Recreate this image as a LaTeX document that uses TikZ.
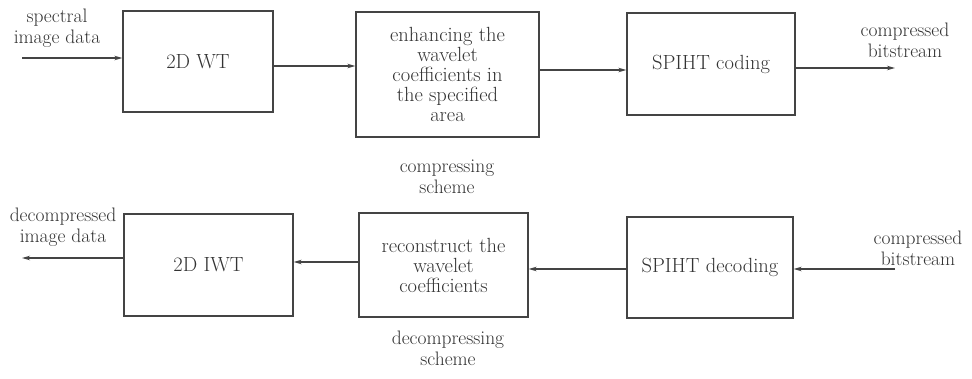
\documentclass[tikz,border=0pt]{standalone}
\usetikzlibrary{arrows.meta}
\definecolor{ink}{HTML}{333333}
\definecolor{line}{HTML}{444444}
\begin{document}
\begin{tikzpicture}[x=1pt,y=-1pt,
  box/.style={draw=line,line width=1.3pt,inner sep=0pt,align=center,text=ink,
    font=\fontsize{20.5}{20}\selectfont},
  lbl/.style={inner sep=0pt,align=center,text=ink,font=\fontsize{19.5}{21}\selectfont},
  arr/.style={draw=line,line width=1.2pt,-{Stealth[length=8pt,width=4.5pt]}}]
\useasboundingbox[fill=white] (0,0) rectangle (972,378);
% top row
\node[box,minimum width=150pt,minimum height=101pt] (b1) at (198,61.5) {2D WT};
\node[box,minimum width=183pt,minimum height=125pt] (b2) at (447.5,74.5)
  {enhancing the\\wavelet\\coefficients in\\the specified\\area};
\node[box,minimum width=168pt,minimum height=102pt] (b3) at (711,64) {SPIHT coding};
% bottom row
\node[box,minimum width=169pt,minimum height=102pt] (b4) at (208.5,265) {2D IWT};
\node[box,minimum width=169pt,minimum height=104pt] (b5) at (443.5,265)
  {reconstruct the\\wavelet\\coefficients};
\node[box,minimum width=166pt,minimum height=101pt] (b6) at (710,267.5) {SPIHT decoding};
% labels
\node[lbl] (l1) at (57,28) {spectral\\image data};
\node[lbl] (l2) at (905,40) {compressed\\bitstream};
\node[lbl] (l3) at (447,177) {compressing\\scheme};
\node[lbl] (l4) at (63,227) {decompressed\\image data};
\node[lbl] (l5) at (918,248) {compressed\\bitstream};
\node[lbl] (l6) at (448,348) {decompressing\\scheme};
% coordinates for free ends
\coordinate (in1) at (22,58);
\coordinate (out1) at (895,68);
\coordinate (in2) at (895,269);
\coordinate (out2) at (22,258);
% connectors
\draw[arr] (in1) -- (in1 -| b1.west);
\draw[arr] ([yshift=-4.5pt]b1.east) coordinate (t1) -- (t1 -| b2.west);
\draw[arr] ([yshift=4.5pt]b2.east) coordinate (t2) -- (t2 -| b3.west);
\draw[arr] (out1 -| b3.east) -- (out1);
\draw[arr] (in2) -- (in2 -| b6.east);
\draw[arr] ([yshift=-1.5pt]b6.west) coordinate (t3) -- (t3 -| b5.east);
\draw[arr] ([yshift=3pt]b5.west) coordinate (t4) -- (t4 -| b4.east);
\draw[arr] (out2 -| b4.west) -- (out2);
\end{tikzpicture}
\end{document}
